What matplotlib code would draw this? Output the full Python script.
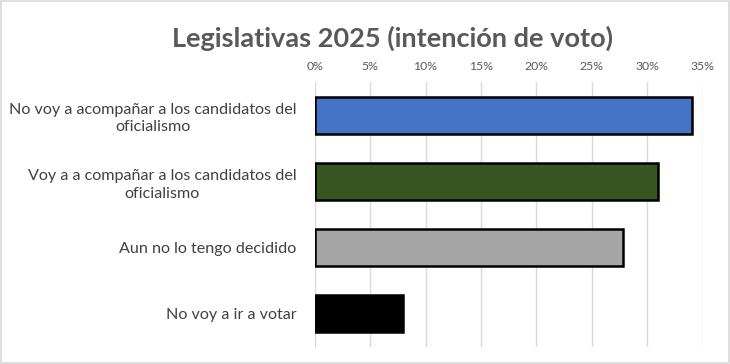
import matplotlib
matplotlib.use("Agg")
import matplotlib.pyplot as plt
from matplotlib.ticker import PercentFormatter, MultipleLocator

categories = [
    "No voy a acompañar a los candidatos del\noficialismo",
    "Voy a a compañar a los candidatos del\noficialismo",
    "Aun no lo tengo decidido",
    "No voy a ir a votar",
]
values = [34.0, 31.0, 27.8, 8.0]
colors = ["#4472C4", "#375623", "#A5A5A5", "#000000"]
title = "Legislativas 2025 (intención de voto)"

plt.rcParams['font.family'] = ['Lato', 'DejaVu Sans']

fig = plt.figure(figsize=(7.30, 3.64), dpi=100)
ax = fig.add_axes([0.431, 0.0467, 0.5316, 0.728])

y = list(range(len(categories)))
ax.barh(y, values, height=0.56, color=colors, edgecolor="black", linewidth=1.8, zorder=3)
ax.set_yticks(y)
ax.set_yticklabels(categories, fontsize=11.6, color="#404040", multialignment="center",
                   linespacing=1.35)
ax.set_ylim(len(categories) - 0.5, -0.5)
ax.set_xlim(0, 35)
ax.xaxis.set_major_locator(MultipleLocator(5))
ax.xaxis.set_major_formatter(PercentFormatter(decimals=0))
ax.xaxis.tick_top()
ax.tick_params(axis="x", length=0, labelsize=8.8, labelcolor="#595959", pad=7)
ax.tick_params(axis="y", length=0, pad=13)
ax.grid(axis="x", color="#D9D9D9", linewidth=1, zorder=0)
for s in ax.spines.values():
    s.set_visible(False)

fig.text(0.538, 0.896, title, ha="center", va="center", fontsize=19.5, fontweight="bold", color="#595959")

border = plt.Rectangle((0.002, 0.003), 0.996, 0.994, transform=fig.transFigure,
                       fill=False, edgecolor="#D9D9D9", linewidth=1.2)
fig.patches.append(border)

fig.savefig("out.png", dpi=100)
